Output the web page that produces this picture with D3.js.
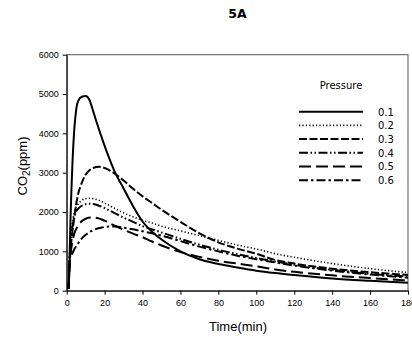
<!DOCTYPE html>
<html>
<head>
<meta charset="utf-8">
<script src="https://cdn.jsdelivr.net/npm/d3@7/dist/d3.min.js"></script>
<style>
    body { margin: 0; background: #fff; }
    svg { display: block; }
    .tick text { font-family: "Liberation Sans", Arial, sans-serif; font-size: 9px; fill: #000; }
</style>
</head>
<body>
<div id="app"></div>
<script>
// ----- Data -----
const pressures = ["0.1", "0.2", "0.3", "0.4", "0.5", "0.6"];

const p01 = [[1, 50], [1.5, 800], [2, 1800], [3, 3200], [4, 4100], [5, 4600], [6, 4820], [8, 4930], [10, 4950],
    [12, 4850], [14, 4560], [16, 4250], [18, 3960], [20, 3680], [22, 3420], [25, 3060], [30, 2600], [35, 2150],
    [40, 1760], [45, 1500], [50, 1300], [60, 1000], [70, 800], [80, 680], [90, 590], [100, 510], [110, 450],
    [120, 400], [140, 310], [160, 250], [180, 200]];
const p02 = [[1, 50], [1.5, 900], [2, 1300], [3, 1700], [4, 2000], [6, 2200], [8, 2300], [10, 2340], [12, 2350],
    [14, 2340], [17, 2300], [20, 2230], [25, 2100], [30, 1980], [35, 1880], [40, 1790], [45, 1720], [50, 1640],
    [60, 1520], [70, 1400], [80, 1280], [90, 1160], [100, 1060], [110, 940], [120, 850], [140, 690], [160, 560],
    [180, 460]];
const p03 = [[1, 50], [1.5, 600], [2, 1000], [3, 1500], [4, 1850], [5, 2200], [6, 2450], [8, 2750], [10, 2950],
    [12, 3060], [14, 3120], [17, 3150], [20, 3120], [25, 2990], [30, 2800], [35, 2590], [40, 2400], [45, 2230],
    [50, 2060], [60, 1750], [70, 1460], [80, 1230], [90, 1070], [100, 940], [110, 780], [120, 690], [140, 560],
    [160, 470], [180, 400]];
const p04 = [[1, 50], [1.5, 800], [2, 1200], [3, 1600], [4, 1900], [6, 2080], [8, 2160], [10, 2200], [13, 2210],
    [16, 2180], [20, 2100], [25, 1980], [30, 1860], [35, 1750], [40, 1640], [45, 1560], [50, 1480], [60, 1320],
    [70, 1170], [80, 1040], [90, 930], [100, 830], [110, 740], [120, 660], [140, 530], [160, 430], [180, 360]];
const p05 = [[1, 50], [1.5, 600], [2, 900], [3, 1250], [4, 1450], [6, 1650], [8, 1770], [10, 1830], [13, 1860],
    [16, 1850], [20, 1780], [25, 1660], [30, 1550], [35, 1450], [40, 1360], [45, 1250], [50, 1150], [60, 980],
    [70, 860], [80, 760], [90, 690], [100, 620], [110, 540], [120, 480], [140, 390], [160, 320], [180, 260]];
const p06 = [[1, 50], [1.5, 600], [1.75, 860], [3, 950], [4, 1050], [6, 1200], [8, 1330], [10, 1420], [14, 1540],
    [18, 1600], [22, 1630], [26, 1630], [30, 1600], [35, 1560], [40, 1510], [45, 1460], [50, 1400], [60, 1260],
    [70, 1120], [80, 1000], [90, 890], [100, 800], [110, 720], [120, 640], [140, 510], [160, 410], [180, 330]];

const seriesValues = [p01, p02, p03, p04, p05, p06];
const xTicks = [0, 20, 40, 60, 80, 100, 120, 140, 160, 180];
const yTicks = [0, 1000, 2000, 3000, 4000, 5000, 6000];

// line styles per series
const dashes = [null, "1.2,2.2", "8,2.5", "9,2.5,1.5,2.5,1.5,2.5", "12,5", "9,3,2.5,3"];
const widths = [2, 1.6, 2, 2, 2, 2];

// ----- Main program -----
function main() {
    const W = 412, H = 337;
    const left = 66.7, right = 408, top = 54.7, bottom = 290.7;

    const svg = d3.select("#app").append("svg")
        .attr("width", W)
        .attr("height", H);

    const xScale = d3.scaleLinear().domain([0, 180]).range([left, right]);
    const yScale = d3.scaleLinear().domain([0, 6000]).range([bottom, top]);

    // title
    svg.append("text")
        .attr("x", 237.5).attr("y", 17.5)
        .attr("text-anchor", "middle")
        .style("font-family", "DejaVu Sans, Verdana, sans-serif")
        .style("font-weight", "bold")
        .style("font-size", "12.5px")
        .text("5A");

    // frame
    svg.append("rect")
        .attr("x", left).attr("y", top)
        .attr("width", right - left).attr("height", bottom - top)
        .attr("fill", "none")
        .attr("stroke", "#555")
        .attr("stroke-width", 1);

    // axes
    const axisBottom = d3.axisBottom(xScale)
        .tickValues(xTicks)
        .tickSize(4)
        .tickSizeOuter(0)
        .tickPadding(5)
        .tickFormat(d3.format("d"));
    const axisLeft = d3.axisLeft(yScale)
        .tickValues(yTicks)
        .tickSize(4)
        .tickSizeOuter(0)
        .tickPadding(4)
        .tickFormat(d3.format("d"));

    const gx = svg.append("g")
        .attr("transform", `translate(0, ${bottom})`)
        .call(axisBottom);
    const gy = svg.append("g")
        .attr("transform", `translate(${left}, 0)`)
        .call(axisLeft);
    [gx, gy].forEach(g => {
        g.select(".domain").attr("stroke", "#000");
        g.selectAll(".tick line").attr("stroke", "#000");
    });

    // axis titles
    svg.append("text")
        .attr("x", 238).attr("y", 331)
        .attr("text-anchor", "middle")
        .style("font-family", "Liberation Sans, Arial, sans-serif")
        .style("font-size", "13px")
        .text("Time(min)");

    const yTitle = svg.append("text")
        .attr("transform", "translate(27, 166) rotate(-90)")
        .attr("text-anchor", "middle")
        .style("font-family", "Liberation Sans, Arial, sans-serif")
        .style("font-size", "13px");
    yTitle.append("tspan").text("CO");
    yTitle.append("tspan").attr("dy", 3).style("font-size", "10px").text("2");
    yTitle.append("tspan").attr("dy", -3).text("(ppm)");

    // clip
    svg.append("clipPath").attr("id", "plot-clip")
        .append("rect")
        .attr("x", left).attr("y", top)
        .attr("width", right - left).attr("height", bottom - top);

    const line = d3.line()
        .x(d => xScale(d[0]))
        .y(d => yScale(d[1]))
        .curve(d3.curveMonotoneX);

    svg.append("g")
        .attr("clip-path", "url(#plot-clip)")
        .selectAll("path")
        .data(seriesValues)
        .enter()
        .append("path")
            .attr("d", d => line(d))
            .attr("fill", "none")
            .attr("stroke", "#000")
            .attr("stroke-width", (d, i) => widths[i])
            .attr("stroke-dasharray", (d, i) => dashes[i]);

    // legend
    const legend = svg.append("g");
    legend.append("text")
        .attr("x", 341).attr("y", 89)
        .attr("text-anchor", "middle")
        .style("font-family", "DejaVu Sans, Verdana, sans-serif")
        .style("font-size", "10px")
        .text("Pressure");

    const rows = legend.selectAll("g.entry")
        .data(pressures)
        .enter()
        .append("g")
            .attr("class", "entry")
            .attr("transform", (d, i) => `translate(0, ${111.7 + i * 13.7})`);
    rows.append("line")
        .attr("x1", 299).attr("x2", 363)
        .attr("y1", 0).attr("y2", 0)
        .attr("stroke", "#000")
        .attr("stroke-width", (d, i) => widths[i])
        .attr("stroke-dasharray", (d, i) => dashes[i]);
    rows.append("text")
        .attr("x", 378).attr("y", 3.8)
        .style("font-family", "DejaVu Sans, Verdana, sans-serif")
        .style("font-size", "10px")
        .text(d => d);
}

main();
</script>
</body>
</html>
